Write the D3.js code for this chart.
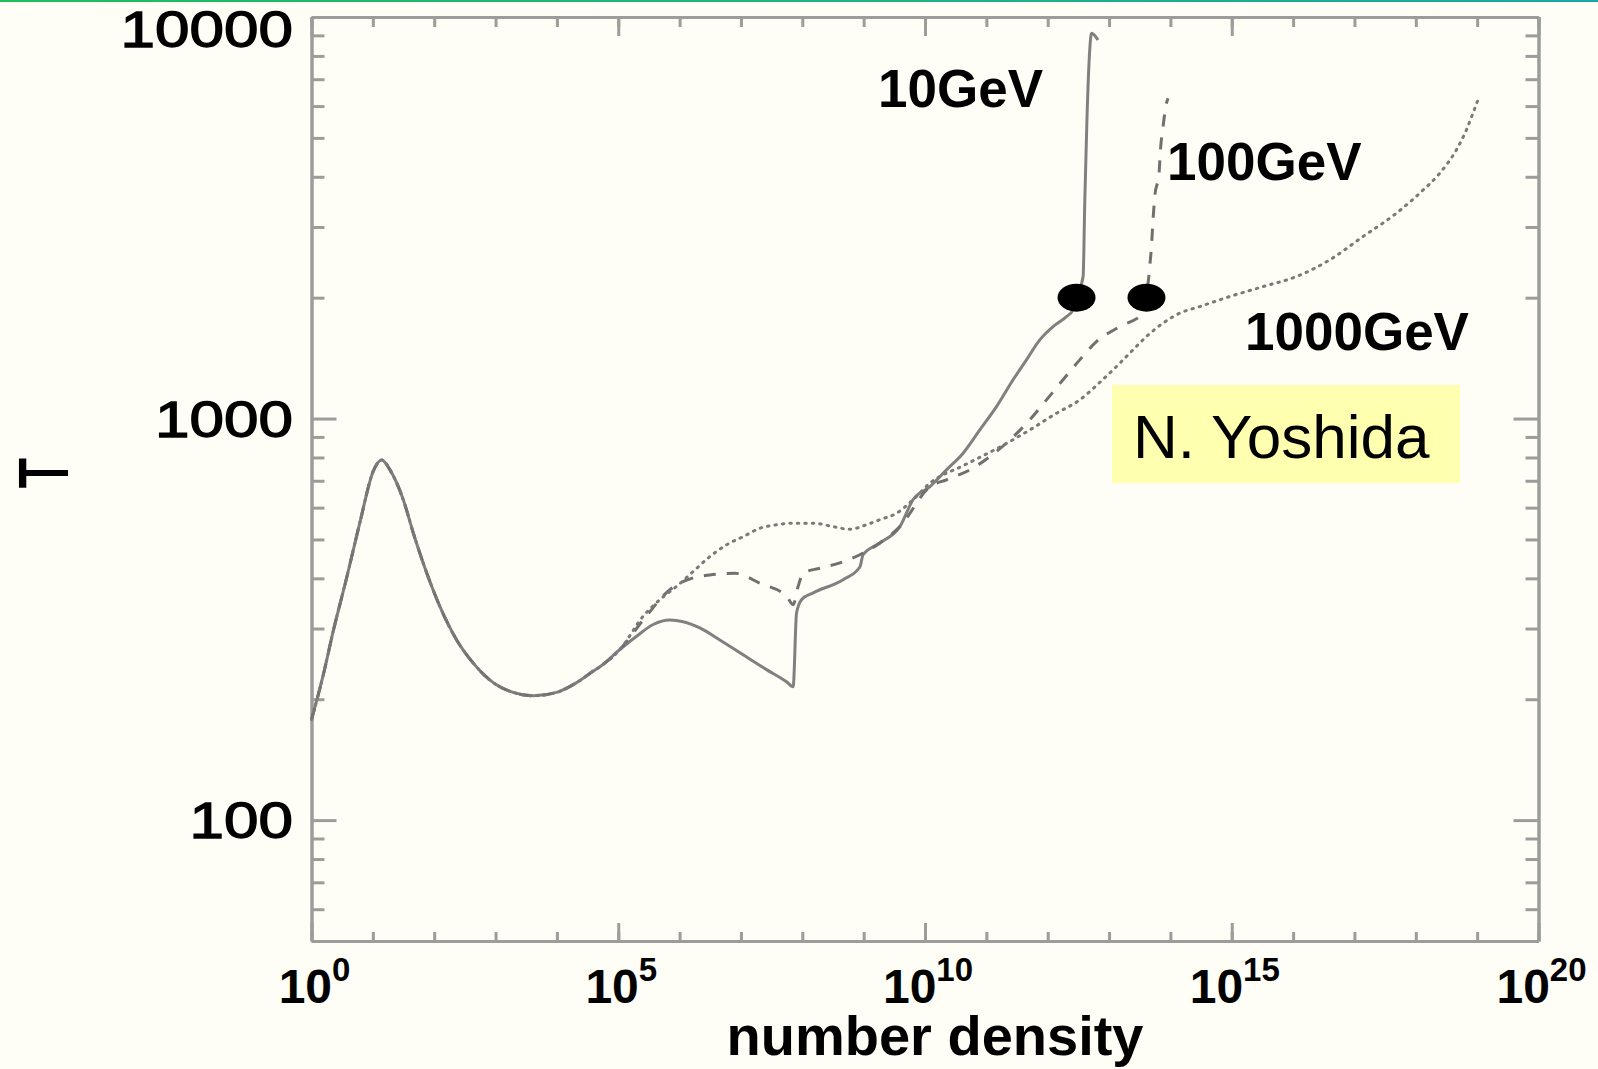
<!DOCTYPE html>
<html>
<head>
<meta charset="utf-8">
<script src="https://cdn.jsdelivr.net/npm/d3@7"></script>
<style>
  html, body { margin: 0; padding: 0; background: #fefef6; }
  svg { display: block; }
  text { font-family: "Liberation Sans", Arial, Helvetica, sans-serif; fill: #000; }
  .axis path, .axis line { stroke: #9c9c9c; stroke-width: 3; fill: none; }
</style>
</head>
<body>
<div id="chart"></div>
<script>
// temperature T (K) against number density (x stored as log10 n)
const sharedLogN = [0.000, 0.192, 0.355, 0.574, 0.790, 1.007, 1.144, 1.279, 1.496, 1.659, 1.877,
  2.094, 2.366, 2.637, 2.962, 3.288, 3.614, 3.995, 4.321, 4.592, 4.701, 5.027];
const sharedT = [178, 230, 296, 402, 552, 740, 789, 745, 628, 519, 413,
  340, 281, 246, 220, 208, 204, 208, 220, 235, 241, 266];

const gev10LogN = [5.299, 5.570, 5.841, 6.058, 6.330, 6.656, 7.036, 7.417, 7.743, 7.851, 7.906,
  7.988, 8.177, 8.666, 8.938, 8.991, 9.264, 9.590, 9.806, 10.082, 10.350, 10.621, 10.893,
  11.165, 11.436, 11.654, 11.871, 12.087, 12.306, 12.413, 12.469, 12.577, 12.605, 12.641,
  12.685, 12.713, 12.820];
const gev10T = [287, 307, 315, 312, 301, 281, 258, 237, 221, 215, 328,
  354, 368, 397, 427, 458, 490, 538, 628, 677, 745, 820, 937,
  1071, 1249, 1400, 1570, 1694, 1794, 1865, 2000, 2257, 3503, 5647,
  8276, 9108, 8764];

const gev100LogN = [5.407, 5.841, 6.221, 6.493, 6.901, 7.308, 7.743, 7.851, 7.932, 8.014, 8.286,
  8.612, 8.938, 9.264, 9.590, 10.082, 10.350, 10.731, 11.057, 11.328, 11.708, 11.980,
  12.250, 12.522, 12.794, 13.173, 13.553, 13.609, 13.663, 13.691, 13.717, 13.745, 13.815,
  13.838, 13.880, 13.936, 13.962];
const gev100T = [315, 375, 401, 408, 412, 389, 361, 344, 382, 412, 424,
  437, 458, 490, 538, 677, 704, 745, 804, 869, 993, 1113,
  1249, 1400, 1555, 1694, 1830, 2000, 2390, 2681, 3123, 3570, 4082,
  4666, 5333, 6099, 6275];

const gev1000LogN = [5.407, 5.678, 5.951, 6.221, 6.493, 6.766, 7.036, 7.308, 7.580, 7.851, 8.177,
  8.503, 8.775, 9.047, 9.264, 9.536, 9.806, 10.082, 10.621, 11.235, 11.708, 12.143,
  12.522, 12.848, 13.065, 13.337, 13.609, 13.880, 14.152, 14.477, 14.967, 15.509, 16.053,
  16.596, 17.139, 17.683, 18.063, 18.389, 18.661, 18.824, 18.931, 19.013];
const gev1000T = [322, 354, 382, 416, 453, 485, 508, 533, 544, 549, 549,
  538, 530, 544, 560, 581, 628, 691, 763, 852, 937, 1031,
  1113, 1230, 1322, 1455, 1600, 1728, 1830, 1900, 2013, 2131, 2257,
  2484, 2839, 3246, 3640, 4082, 4666, 5232, 5757, 6215];

// filled circles where the 10GeV and 100GeV runs cross T = 2000 K
const dotLogN = [12.47, 13.61];
const dotT = [2000, 2000];

const seriesNames = ['10GeV', '100GeV', '1000GeV'];
const xMajorExp = [0, 5, 10, 15, 20];
const xMinorExp = [0, 1, 2, 3, 4, 5, 6, 7, 8, 9, 10, 11, 12, 13, 14, 15, 16, 17, 18, 19, 20];
const yMajor = [100, 1000, 10000];
const yMinor = [50, 60, 70, 80, 90, 200, 300, 400, 500, 600, 700, 800, 900,
  2000, 3000, 4000, 5000, 6000, 7000, 8000, 9000];

const width = 1598;
const height = 1069;
const plot = { left: 311.5, right: 1538.5, top: 17, bottom: 941 };

const x = d3.scaleLog().domain([1, 1e20]).range([plot.left, plot.right]);
const y = d3.scaleLog().domain([50, 10000]).range([plot.bottom, plot.top]);

const svg = d3.select('#chart').append('svg')
    .attr('width', width)
    .attr('height', height);

svg.append('rect')
    .attr('width', width)
    .attr('height', height)
    .attr('fill', '#fefef6');

// thin slide rule along the top
const grad = svg.append('defs').append('linearGradient')
    .attr('id', 'topline');
grad.append('stop').attr('offset', '0%').attr('stop-color', '#1cbf5c');
grad.append('stop').attr('offset', '100%').attr('stop-color', '#1aa9a2');
svg.append('rect')
    .attr('x', 0).attr('y', 0)
    .attr('width', width).attr('height', 2)
    .attr('fill', 'url(#topline)');

// frame with inward ticks on all four sides
const tenTo = (e) => Math.pow(10, e);
const axes = [
  { make: () => d3.axisBottom(x), vals: xMinorExp.map(tenTo), size: 9, tr: `translate(0,${plot.bottom})` },
  { make: () => d3.axisBottom(x), vals: xMajorExp.map(tenTo), size: 18, tr: `translate(0,${plot.bottom})` },
  { make: () => d3.axisTop(x), vals: xMinorExp.map(tenTo), size: 10, tr: `translate(0,${plot.top})` },
  { make: () => d3.axisTop(x), vals: xMajorExp.map(tenTo), size: 19, tr: `translate(0,${plot.top})` },
  { make: () => d3.axisLeft(y), vals: yMinor, size: 13, tr: `translate(${plot.left},0)` },
  { make: () => d3.axisLeft(y), vals: yMajor, size: 25, tr: `translate(${plot.left},0)` },
  { make: () => d3.axisRight(y), vals: yMinor, size: 13, tr: `translate(${plot.right},0)` },
  { make: () => d3.axisRight(y), vals: yMajor, size: 25, tr: `translate(${plot.right},0)` }
];
axes.forEach((a) => {
  svg.append('g')
      .attr('class', 'axis')
      .attr('transform', a.tr)
      .call(a.make().tickValues(a.vals).tickSize(-a.size).tickSizeOuter(0).tickFormat(''))
      .call((g) => g.selectAll('text').remove());
});

// x tick labels as powers of ten
const xLabels = svg.append('g')
  .selectAll('text')
    .data(xMajorExp)
  .enter()
    .append('text')
    .attr('x', (d) => x(tenTo(d)) + 3)
    .attr('y', 1003)
    .attr('text-anchor', 'middle')
    .style('font-weight', 'bold')
    .style('font-size', '48px');
xLabels.append('tspan').text('10');
xLabels.append('tspan')
    .attr('dy', -22)
    .style('font-size', '33px')
    .text((d) => d);

// y tick labels (stretched, like the original scan)
svg.append('g')
  .selectAll('text')
    .data(yMajor)
  .enter()
    .append('text')
    .attr('transform', (d) => `translate(293,${Math.max(y(d) + 18, 47)}) scale(1.24,1)`)
    .attr('text-anchor', 'end')
    .style('font-size', '50px')
    .style('stroke', '#000')
    .style('stroke-width', 1.3)
    .text((d) => d);

svg.append('text')
    .attr('transform', 'translate(42,473) scale(1.4,1) rotate(-90)')
    .attr('y', '0.36em')
    .attr('text-anchor', 'middle')
    .style('font-size', '49px')
    .style('stroke', '#000')
    .style('stroke-width', 1.5)
    .text('T');

svg.append('text')
    .attr('x', 935)
    .attr('y', 1055)
    .attr('text-anchor', 'middle')
    .style('font-weight', 'bold')
    .style('font-size', '56px')
    .text('number density');

// curves
const series = [
  { name: seriesNames[0], logN: gev10LogN, t: gev10T, dash: null, color: '#808080' },
  { name: seriesNames[1], logN: gev100LogN, t: gev100T, dash: '12,11', color: '#707070' },
  { name: seriesNames[2], logN: gev1000LogN, t: gev1000T, dash: '1.5,6', color: '#7a7a7a' }
];

const line = d3.line()
    .x((d) => x(tenTo(d[0])))
    .y((d) => y(d[1]))
    .curve(d3.curveMonotoneX);

series.forEach((s) => {
  const pts = sharedLogN.map((n, i) => [n, sharedT[i]])
    .concat(s.logN.map((n, i) => [n, s.t[i]]));
  svg.append('path')
      .datum(pts)
      .attr('d', line)
      .attr('fill', 'none')
      .attr('stroke', s.color)
      .attr('stroke-width', 3)
      .attr('stroke-linecap', s.dash === '1.5,6' ? 'round' : 'butt')
      .attr('stroke-dasharray', s.dash);
});

svg.append('g')
  .selectAll('ellipse')
    .data(dotLogN)
  .enter()
    .append('ellipse')
    .attr('cx', (d) => x(tenTo(d)))
    .attr('cy', (d, i) => y(dotT[i]))
    .attr('rx', 19)
    .attr('ry', 14)
    .attr('fill', '#000');

// series labels
const labelPos = [[878, 107], [1167, 180], [1245, 350]];
svg.append('g')
  .selectAll('text')
    .data(seriesNames)
  .enter()
    .append('text')
    .attr('x', (d, i) => labelPos[i][0])
    .attr('y', (d, i) => labelPos[i][1])
    .style('font-weight', 'bold')
    .style('font-size', '53px')
    .text((d) => d);

// credit box
svg.append('rect')
    .attr('x', 1112)
    .attr('y', 385)
    .attr('width', 348)
    .attr('height', 98)
    .attr('fill', '#ffffb0');
svg.append('text')
    .attr('x', 1133)
    .attr('y', 458)
    .style('font-size', '62px')
    .text('N. Yoshida');
</script>
</body>
</html>
